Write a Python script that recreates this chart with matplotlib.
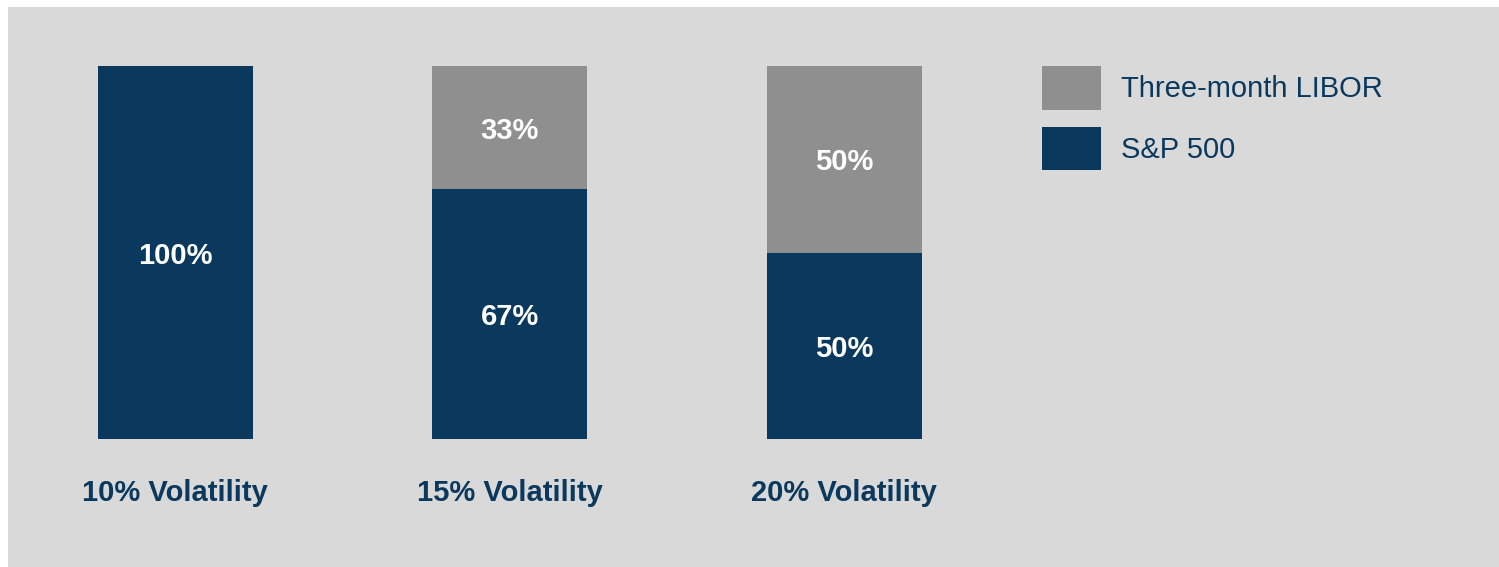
import matplotlib
matplotlib.use("Agg")
import matplotlib.pyplot as plt
from matplotlib.patches import Rectangle, Patch

# --- data ---
categories = ["10% Volatility", "15% Volatility", "20% Volatility"]
sp500 = [100, 67, 50]
libor = [0, 33, 50]
series_names = ["Three-month LIBOR", "S&P 500"]

NAVY = "#0b385d"
GREY = "#8f8f90"
BG = "#d9d9d9"

plt.rcParams["font.family"] = ["Liberation Sans", "DejaVu Sans"]

W, H = 1499, 567
fig = plt.figure(figsize=(W / 100, H / 100), dpi=100, facecolor="white")

# grey panel behind everything
fig.patches.append(Rectangle((8 / W, 0), 1, (H - 7) / H, transform=fig.transFigure,
                             facecolor=BG, edgecolor="none", zorder=-5))

# axes: bars at x=0,1,2 ; y 0..100 mapped to px 439..66
unit = 334.5
left_px = 8
x0 = 175.0
ax = fig.add_axes([left_px / W, (H - 439) / H, (W - left_px) / W, 373 / H])
ax.set_xlim(-(x0 - left_px) / unit, (W - x0) / unit)
ax.set_ylim(0, 100)
ax.set_facecolor("none")
ax.axis("off")

xs = range(len(categories))
width = 155 / unit
ax.bar(xs, sp500, width=width, color=NAVY, zorder=2)
ax.bar(xs, libor, width=width, bottom=sp500, color=GREY, zorder=2)

lab_kw = dict(ha="center", va="center_baseline", color="white", fontsize=21,
              fontweight="bold", zorder=3)
for i in xs:
    if sp500[i] > 0:
        ax.text(i, sp500[i] / 2, f"{sp500[i]}%", **lab_kw)
    if libor[i] > 0:
        ax.text(i, sp500[i] + libor[i] / 2, f"{libor[i]}%", **lab_kw)
    ax.text(i, -13.6, categories[i], ha="center", va="center_baseline", color=NAVY,
            fontsize=21, fontweight="bold", clip_on=False)

handles = [Patch(facecolor=GREY, edgecolor="none"), Patch(facecolor=NAVY, edgecolor="none")]
fs = 21
px = fs * 100 / 72
fig.legend(handles, series_names, loc="upper left",
           bbox_to_anchor=(1042 / W, 1 - 66 / H), frameon=False, borderpad=0,
           borderaxespad=0, fontsize=fs, labelcolor=NAVY,
           handlelength=59 / px, handleheight=45 / (0.8 * px),
           labelspacing=17 / px, handletextpad=20 / px)

fig.savefig("out.png", dpi=100, facecolor="white")
